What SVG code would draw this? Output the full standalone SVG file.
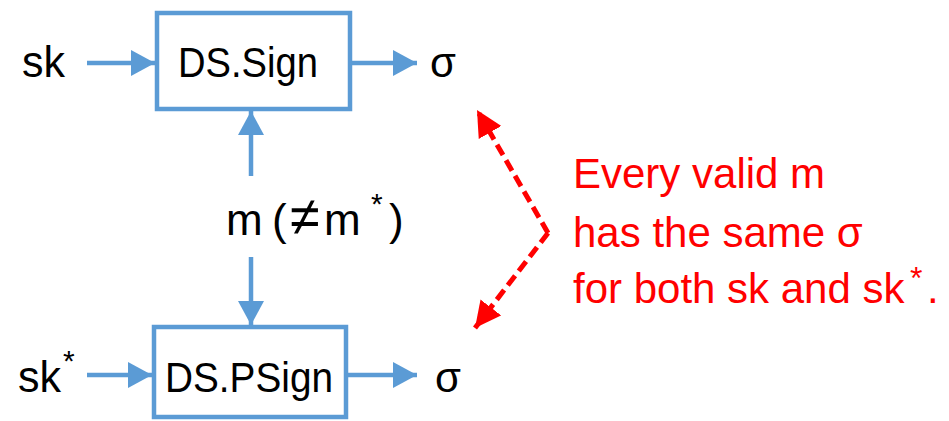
<svg xmlns="http://www.w3.org/2000/svg" width="949" height="421" viewBox="0 0 949 421">
<style>
.box{fill:#fff;stroke:#5B9BD5;stroke-width:4.5}
.bl{stroke:#5B9BD5;stroke-width:4.5;fill:none}
.rd{stroke:#FF0000;stroke-width:5;fill:none;stroke-dasharray:12 6}
.t{font-family:"Liberation Sans",Arial,sans-serif;fill:#000;font-size:42px}
.r{font-family:"Liberation Sans",Arial,sans-serif;fill:#FF0000;font-size:42px}
.sup{font-size:30px}
</style>
<defs>
<marker id="ab" markerUnits="userSpaceOnUse" viewBox="0 0 24 26" refX="24" refY="13" markerWidth="24" markerHeight="26" orient="auto"><path d="M0,0 L24,13 L0,26 z" fill="#5B9BD5"/></marker>
<marker id="ar" markerUnits="userSpaceOnUse" viewBox="0 0 26 26" refX="26" refY="13" markerWidth="26" markerHeight="26" orient="auto"><path d="M0,0 L26,13 L0,26 z" fill="#FF0000"/></marker>
</defs>
<g id="sign">
<rect class="box" x="157" y="13" width="193" height="96"/>
<text class="t" x="178" y="77" textLength="140" lengthAdjust="spacingAndGlyphs">DS.Sign</text>
</g>
<g id="psign">
<rect class="box" x="154" y="327" width="192" height="90"/>
<text class="t" x="165" y="392" textLength="168" lengthAdjust="spacingAndGlyphs">DS.PSign</text>
</g>
<g id="sk"><text class="t" x="22" y="77" style="font-size:45px" textLength="43" lengthAdjust="spacingAndGlyphs">sk</text></g>
<g id="skstar"><text class="t" x="18" y="392" style="font-size:45px"><tspan textLength="43" lengthAdjust="spacingAndGlyphs">sk</tspan><tspan class="sup" x="63" y="371">*</tspan></text></g>
<g id="sigma1"><text class="t" x="430" y="77">σ</text></g>
<g id="sigma2"><text class="t" x="435" y="392">σ</text></g>
<g id="m"><text class="t" x="226" y="235" style="font-size:44px">m<tspan x="272">(</tspan><tspan x="290" style="font-size:54px">≠</tspan><tspan x="324">m</tspan><tspan class="sup" x="371" y="214">*</tspan><tspan x="389" y="235">)</tspan></text></g>
<g id="note">
<text class="r" x="573" y="188">Every valid m</text>
<text class="r" x="573" y="247">has the same σ</text>
<text class="r" x="573" y="303">for both sk and sk<tspan class="sup" x="910" y="289" style="font-size:32px">*</tspan><tspan x="927" y="303">.</tspan></text>
</g>
<g id="connectors">
<line class="bl" x1="87" y1="63" x2="155" y2="63" marker-end="url(#ab)"/>
<line class="bl" x1="352" y1="63" x2="417" y2="63" marker-end="url(#ab)"/>
<line class="bl" x1="87" y1="375" x2="152" y2="375" marker-end="url(#ab)"/>
<line class="bl" x1="348" y1="375" x2="417" y2="375" marker-end="url(#ab)"/>
<line class="bl" x1="251" y1="176" x2="251" y2="111" marker-end="url(#ab)"/>
<line class="bl" x1="251" y1="257" x2="251" y2="325" marker-end="url(#ab)"/>
<polyline class="rd" points="548,233 477,110" marker-end="url(#ar)"/>
<polyline class="rd" points="548,233 475,328" marker-end="url(#ar)"/>
</g>
</svg>
